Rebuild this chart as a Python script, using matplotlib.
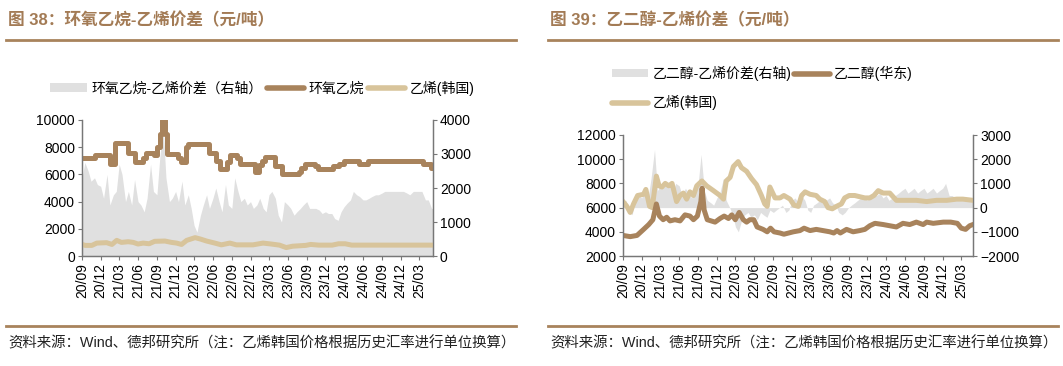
import numpy as np
import pandas as pd
import matplotlib
matplotlib.use('Agg')
import matplotlib.pyplot as plt
import matplotlib.dates as mdates
from matplotlib.patches import Patch
from matplotlib.lines import Line2D

plt.rcParams['font.family'] = ['Liberation Sans', 'Noto Sans CJK SC']

BROWN = '#A8835C'
TAN = '#D8C49B'
GRAY = '#E0E0E0'
TITLE_C = '#A37B55'

# semi-monthly grid for the spreads
grid = pd.date_range('2020-09-01', '2025-05-15', freq='SMS')

# ---------------- chart 38: EO vs ethylene ----------------
eo_dates = ['2020-09-01', '2020-11-05', '2021-01-16', '2021-02-10', '2021-04-14', '2021-05-16',
            '2021-06-23', '2021-07-12', '2021-08-17', '2021-09-03', '2021-09-16', '2021-09-27',
            '2021-10-08', '2021-10-18', '2021-12-14', '2021-12-27', '2022-01-19', '2022-01-29',
            '2022-05-12', '2022-06-18', '2022-07-03', '2022-08-10', '2022-08-24', '2022-09-28',
            '2022-10-09', '2022-12-21', '2023-01-12', '2023-01-27', '2023-02-09', '2023-04-01',
            '2023-05-04', '2023-07-23', '2023-08-06', '2023-08-24', '2023-10-09', '2023-10-26',
            '2024-01-08', '2024-02-06', '2024-02-28', '2024-05-12', '2024-06-25', '2025-03-20',
            '2025-04-28', '2025-05-20']
eo_price = [7200, 7400, 6800, 8300, 7600, 6900,
            7200, 7600, 7400, 8000, 9000, 10000,
            9000, 7500, 7200, 6900, 8000, 8200,
            7600, 7000, 6400, 6900, 7400, 7200,
            6800, 6200, 6700, 7000, 7300, 6600,
            6000, 6200, 6500, 6800, 6600, 6400,
            6600, 6800, 7000, 6800, 7000, 6800,
            6500, 6500]

eth38_dates = ['2020-09-01', '2020-09-17', '2020-10-19', '2020-11-12', '2020-12-30', '2021-01-25',
               '2021-02-17', '2021-03-12', '2021-04-14', '2021-05-09', '2021-06-01', '2021-06-26',
               '2021-07-25', '2021-08-21', '2021-10-10', '2021-11-11', '2021-12-06', '2021-12-30',
               '2022-01-24', '2022-03-06', '2022-03-31', '2022-05-01', '2022-06-10', '2022-07-12',
               '2022-08-22', '2022-09-23', '2022-12-13', '2023-01-31', '2023-03-12', '2023-04-21',
               '2023-05-24', '2023-06-24', '2023-08-27', '2023-09-20', '2023-10-30', '2024-01-03',
               '2024-02-03', '2024-03-06', '2024-04-07', '2025-05-20']
eth38_price = [850, 780, 780, 950, 980, 850,
               1150, 1000, 1050, 1000, 880, 950,
               900, 1080, 1100, 1000, 950, 850,
               1150, 1350, 1250, 1100, 950, 820,
               950, 820, 820, 950, 880, 800,
               620, 720, 780, 850, 800, 800,
               900, 900, 800, 800]

eo_spread = [2300, 2750, 2500, 2200, 2300, 2100, 2050, 1700, 2400, 1500,
             1800, 1900, 2700, 2400, 1600, 1900, 1500, 2250, 1600, 1500,
             1300, 1700, 2700, 1900, 1800, 2900, 3800, 2300, 1600, 1700,
             1900, 1600, 2200, 1500, 1800, 1400, 900, 700, 1200, 1500,
             1800, 1400, 1700, 2000, 1600, 1300, 2100, 1500, 1400, 2300,
             1900, 1600, 1700, 1500, 1600, 1400, 1500, 1700, 1400, 1300,
             1800, 1900, 1700, 1200, 1000, 1600, 1500, 1400, 1200, 1300,
             1400, 1500, 1600, 1400, 1400, 1400, 1350, 1250, 1300, 1250,
             1250, 1100, 1050, 1300, 1450, 1550, 1650, 1900, 1800, 1750,
             1650, 1650, 1700, 1750, 1800, 1800, 1850, 1900, 1900, 1900,
             1900, 1900, 1900, 1900, 1850, 1800, 1900, 1900, 1900, 1900,
             1650, 1650, 1400, 1400]

# ---------------- chart 39: MEG vs ethylene ----------------
meg_dates = ['2020-09-01', '2020-10-06', '2020-11-08', '2020-12-10', '2021-01-04', '2021-01-24',
             '2021-02-10', '2021-02-25', '2021-03-15', '2021-04-01', '2021-04-17', '2021-05-11',
             '2021-06-05', '2021-06-29', '2021-07-23', '2021-08-09', '2021-08-28', '2021-09-14',
             '2021-09-20', '2021-09-30', '2021-10-15', '2021-11-22', '2021-12-16', '2022-01-05',
             '2022-01-26', '2022-02-11', '2022-02-28', '2022-03-19', '2022-04-08', '2022-04-24',
             '2022-05-10', '2022-05-29', '2022-06-14', '2022-07-13', '2022-08-02', '2022-08-18',
             '2022-09-04', '2022-10-03', '2022-10-22', '2022-12-07', '2023-01-08', '2023-01-28',
             '2023-02-26', '2023-03-28', '2023-04-30', '2023-06-02', '2023-06-21', '2023-07-07',
             '2023-07-23', '2023-08-22', '2023-09-23', '2023-10-25', '2023-11-19', '2023-12-13',
             '2024-01-07', '2024-02-16', '2024-03-19', '2024-04-20', '2024-05-22', '2024-06-24',
             '2024-07-26', '2024-08-28', '2024-09-14', '2024-10-16', '2024-12-04', '2025-01-09',
             '2025-02-10', '2025-03-01', '2025-03-22', '2025-04-11', '2025-04-27']
meg_price = [3700, 3600, 3700, 4200, 4600, 5000,
             6300, 5300, 5000, 5200, 4900, 5000,
             4900, 5400, 5300, 5000, 5300, 6500,
             7600, 5800, 5000, 4800, 5100, 5300,
             5100, 5400, 5000, 5600, 5000, 4800,
             5000, 5000, 4400, 4200, 4000, 4300,
             4000, 3900, 3800, 4000, 4100, 4300,
             4100, 4200, 4100, 4000, 3900, 4100,
             3900, 4200, 4000, 4100, 4200, 4500,
             4700, 4600, 4500, 4400, 4700, 4600,
             4800, 4600, 4800, 4700, 4800, 4800,
             4700, 4300, 4200, 4500, 4600]

eth39_dates = ['2020-09-01', '2020-09-20', '2020-10-06', '2020-10-22', '2020-11-11', '2020-12-10',
               '2020-12-21', '2021-01-08', '2021-01-21', '2021-02-10', '2021-02-23', '2021-03-09',
               '2021-03-25', '2021-04-11', '2021-04-27', '2021-05-19', '2021-06-05', '2021-06-21',
               '2021-07-07', '2021-07-23', '2021-08-09', '2021-08-25', '2021-09-19', '2021-10-12',
               '2021-11-14', '2021-12-16', '2022-01-02', '2022-01-15', '2022-02-03', '2022-02-19',
               '2022-03-14', '2022-03-30', '2022-04-24', '2022-05-18', '2022-06-11', '2022-07-05',
               '2022-07-21', '2022-08-02', '2022-08-15', '2022-09-09', '2022-10-03', '2022-10-22',
               '2022-11-21', '2022-12-10', '2022-12-31', '2023-01-16', '2023-02-02', '2023-02-26',
               '2023-03-28', '2023-04-14', '2023-05-08', '2023-05-24', '2023-06-14', '2023-07-04',
               '2023-07-28', '2023-08-13', '2023-09-04', '2023-10-01', '2023-10-25', '2023-11-19',
               '2023-12-13', '2024-01-02', '2024-01-23', '2024-02-16', '2024-03-19', '2024-04-04',
               '2024-04-20', '2024-06-08', '2024-07-26', '2024-09-14', '2024-11-01', '2024-12-20',
               '2025-02-07', '2025-03-09', '2025-04-27']
eth39_price = [6500, 6100, 5600, 6300, 7000, 7100,
               7500, 6100, 6000, 8600, 7800, 7700,
               8000, 7800, 8000, 6500, 7000, 7200,
               6700, 7300, 7000, 7800, 8200, 7800,
               7400, 7000, 6700, 8200, 8500, 9400,
               9800, 9300, 9000, 8400, 7900, 7000,
               6300, 6100, 7700, 6800, 6800, 7000,
               6700, 6200, 6100, 7000, 7300, 7100,
               7000, 6700, 6500, 6000, 5900, 6100,
               6300, 6800, 7000, 7000, 6900, 6800,
               6800, 7000, 7400, 7200, 7200, 6900,
               6600, 6600, 6600, 6500, 6600, 6600,
               6700, 6700, 6600]

meg_spread = [200, 300, -100, -300, 300, 500, 400, 700, 400, 1200,
              2400, 700, 900, 800, 1000, 900, 700, 1000, 900, 500,
              800, 600, 400, 700, 1000, 2200, 700, 300, 200, 100,
              400, 600, 1200, 300, 0, -300, -800, -1000, -500, -300,
              -200, -400, -300, -500, -200, -300, -400, -100, -200, -100,
              0, 100, -200, -100, 300, 400, 200, 500, 300, -100,
              -200, 100, 200, 300, 200, 300, 400, 200, 100, -200,
              -300, -200, 0, 100, 200, 300, 400, 500, 300, 500,
              600, 500, 600, 400, 500, 300, 400, 500, 600, 700,
              800, 600, 700, 800, 600, 700, 800, 600, 700, 800,
              600, 700, 800, 1000, 500, 500, 400, 400, 300, 300,
              300, 350, 300, 300]

fig = plt.figure(figsize=(10.63, 3.66), dpi=100)
W, H = 1063, 366


def style_axes(ax, ax2, xend):
    for a in (ax, ax2):
        a.spines['top'].set_visible(False)
        for s in ('left', 'right', 'bottom'):
            a.spines[s].set_color('#777777')
            a.spines[s].set_linewidth(0.9)
        a.tick_params(length=3, width=0.8, color='#777777', labelsize=10, pad=2)
    ax.set_zorder(ax2.get_zorder() + 1)
    ax.patch.set_visible(False)
    ax.set_xlim(pd.Timestamp('2020-09-01'), pd.Timestamp(xend))
    ax.xaxis.set_major_locator(mdates.MonthLocator(bymonth=[3, 6, 9, 12]))
    ax.xaxis.set_major_formatter(mdates.DateFormatter('%y/%m'))
    plt.setp(ax.get_xticklabels(), rotation=90)


# left chart
ax = fig.add_axes([82 / W, 1 - 256 / H, 351 / W, 136 / H])
ax2 = ax.twinx()
ax2.fill_between(grid, 0, eo_spread, color=GRAY, lw=0)
ax.plot(pd.to_datetime(eth38_dates), eth38_price, color=TAN, lw=3.6, solid_joinstyle='round')
ax.plot(pd.to_datetime(eo_dates), eo_price, color=BROWN, lw=3.6, drawstyle='steps-post',
        solid_joinstyle='round')
ax.set_ylim(0, 10000)
ax.set_yticks(np.arange(0, 10001, 2000))
ax2.set_ylim(0, 4000)
ax2.set_yticks(np.arange(0, 4001, 1000))
style_axes(ax, ax2, '2025-05-08')

# right chart
bx = fig.add_axes([623 / W, 1 - 256 / H, 350 / W, 121 / H])
bx2 = bx.twinx()
bx2.fill_between(grid, 0, meg_spread, color=GRAY, lw=0)
bx.plot(pd.to_datetime(eth39_dates), eth39_price, color=TAN, lw=3.6, solid_joinstyle='round')
bx.plot(pd.to_datetime(meg_dates), meg_price, color=BROWN, lw=3.6, solid_joinstyle='round')
bx.set_ylim(2000, 12000)
bx.set_yticks(np.arange(2000, 12001, 2000))
bx2.set_ylim(-2000, 3000)
bx2.set_yticks(np.arange(-2000, 3001, 1000))
style_axes(bx, bx2, '2025-04-27')

# legends
gray_h = Patch(facecolor=GRAY, edgecolor='none')
brown_h = Line2D([], [], color=BROWN, lw=4, solid_capstyle='round')
tan_h = Line2D([], [], color=TAN, lw=4, solid_capstyle='round')
fig.legend([gray_h, brown_h, tan_h], ['环氧乙烷-乙烯价差（右轴）', '环氧乙烷', '乙烯(韩国)'],
           ncol=3, loc='center', bbox_to_anchor=(262 / W, 1 - 88 / H), frameon=False,
           fontsize=10, handlelength=2.7, handleheight=0.55, handletextpad=0.3,
           columnspacing=0.3, borderpad=0)
fig.legend([gray_h, tan_h, brown_h], ['乙二醇-乙烯价差(右轴)', '乙烯(韩国)', '乙二醇(华东)'],
           ncol=2, loc='upper left', bbox_to_anchor=(612 / W, 1 - 66 / H), frameon=False,
           fontsize=10, handlelength=2.6, handleheight=0.55, handletextpad=0.3,
           columnspacing=0.2, labelspacing=1.0, borderpad=0, borderaxespad=0)

# titles, rules and source notes
for x0, x1, title in [(6, 516, '图 38：环氧乙烷-乙烯价差（元/吨）'),
                      (548, 1058, '图 39：乙二醇-乙烯价差（元/吨）')]:
    fig.text((x0 + 2) / W, 1 - 20 / H, title, fontsize=12, fontweight='bold',
             color=TITLE_C, va='center', ha='left')
    fig.add_artist(Line2D([x0 / W, x1 / W], [1 - 40 / H] * 2, color=BROWN, lw=2))
    fig.add_artist(Line2D([x0 / W, x1 / W], [1 - 326 / H] * 2, color=BROWN, lw=2))
    fig.text((x0 + 2) / W, 1 - 343 / H,
             '资料来源：Wind、德邦研究所（注：乙烯韩国价格根据历史汇率进行单位换算）',
             fontsize=10.4, color='#222222', va='center', ha='left')

fig.savefig('out.png', dpi=100)
